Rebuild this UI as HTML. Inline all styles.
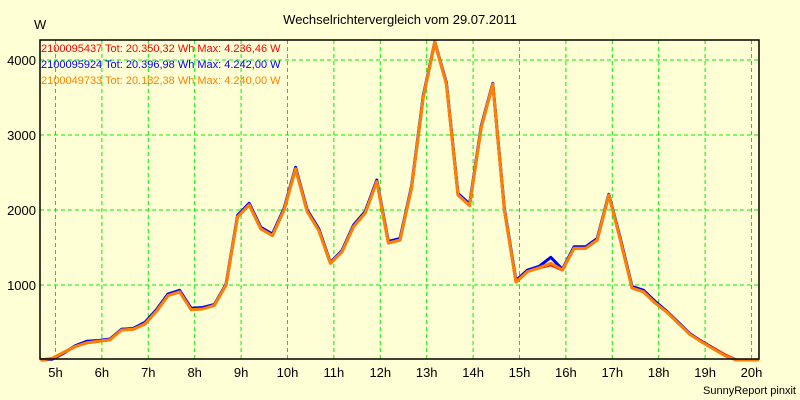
<!DOCTYPE html>
<html><head><meta charset="utf-8"><style>
html,body{margin:0;padding:0;background:#ffffd5;}
svg{display:block;font-family:"Liberation Sans",sans-serif;}
</style></head><body>
<svg id="chart" width="800" height="400" viewBox="0 0 800 400">
<rect x="0" y="0" width="800" height="400" fill="#ffffd5"/>
<text x="400" y="24" text-anchor="middle" font-size="13" fill="#000">Wechselrichtervergleich vom 29.07.2011</text>
<text x="34" y="29" font-size="13" fill="#000">W</text>
<g id="grid"></g>
<g id="series"></g>
<rect x="40" y="40" width="719" height="319" fill="none" stroke="#000" stroke-width="1.5"/>
<g id="axes"></g>
<g font-size="11">
<text x="41" y="52" fill="#ff0000">2100095437 Tot: 20.350,32 Wh Max: 4.236,46 W</text>
<text x="41" y="68" fill="#0000ff">2100095924 Tot: 20.396,98 Wh Max: 4.242,00 W</text>
<text x="41" y="84" fill="#ff8000">2100049733 Tot: 20.182,38 Wh Max: 4.240,00 W</text>
</g>
<text x="796" y="394" text-anchor="end" font-size="11" fill="#000">SunnyReport pinxit</text>
</svg>
<script>
const hourTicks = [5,6,7,8,9,10,11,12,13,14,15,16,17,18,19,20];
const yTicks = [1000,2000,3000,4000];
const startHour = 4.675;
const stepHours = 0.25;
const orangeValues = [0,20,100,180,230,250,270,400,410,480,650,860,910,670,680,730,1000,1910,2070,1750,1660,2000,2550,1980,1730,1290,1445,1780,1960,2380,1560,1600,2300,3500,4240,3680,2200,2060,3100,3680,2000,1040,1180,1230,1290,1200,1490,1490,1600,2200,1600,960,910,760,640,490,340,240,150,60,0,0,0];
const blueValues = [0,10,90,190,250,260,280,410,420,500,670,880,930,690,700,740,1010,1930,2090,1770,1680,2020,2570,2000,1750,1300,1460,1800,1980,2400,1580,1620,2320,3520,4242,3700,2220,2080,3120,3690,2020,1060,1200,1250,1370,1210,1510,1510,1620,2210,1620,980,930,780,650,500,350,245,155,60,0,0,0];
const redValues = [0,20,100,180,230,250,270,410,410,480,650,860,910,680,690,730,1000,1910,2070,1750,1660,2000,2550,1980,1730,1290,1445,1780,1960,2380,1560,1600,2300,3500,4236,3680,2200,2060,3100,3680,2000,1040,1180,1230,1270,1200,1490,1490,1600,2200,1600,960,910,760,640,490,345,250,160,70,0,0,0];

const X0=40, X1=759, Y0=359;
function xScale(h){ return 55.5 + (h-5)*46.4; }
function yScale(v){ return 360 - v*0.075; }
const NS="http://www.w3.org/2000/svg";
const grid=document.getElementById('grid');
const axes=document.getElementById('axes');
const series=document.getElementById('series');

hourTicks.forEach(h=>{
  const x=xScale(h);
  const l=document.createElementNS(NS,'line');
  l.setAttribute('x1',x);l.setAttribute('x2',x);l.setAttribute('y1',40);l.setAttribute('y2',Y0);
  l.setAttribute('stroke','#00f000');l.setAttribute('stroke-dasharray','4,3');
  
  
  grid.appendChild(l);
  const t=document.createElementNS(NS,'text');
  t.setAttribute('x',x);t.setAttribute('y',377);t.setAttribute('text-anchor','middle');t.setAttribute('font-size','13');
  t.textContent=h+'h';
  
  
  axes.appendChild(t);
});
yTicks.forEach(v=>{
  const y=yScale(v);
  const l=document.createElementNS(NS,'line');
  l.setAttribute('x1',X0);l.setAttribute('x2',X1);l.setAttribute('y1',y);l.setAttribute('y2',y);
  l.setAttribute('stroke','#00f000');l.setAttribute('stroke-dasharray','4,3');
  
  
  grid.appendChild(l);
  const t=document.createElementNS(NS,'text');
  t.setAttribute('x',36);t.setAttribute('y',y+5);t.setAttribute('text-anchor','end');t.setAttribute('font-size','13');
  t.textContent=v;
  
  
  axes.appendChild(t);
});

function drawSeries(vals,color,w,name){
  const pts=vals.map((v,i)=>{
    const x=Math.min(X1,Math.max(X0,xScale(startHour+i*stepHours)));
    return x.toFixed(1)+','+yScale(v).toFixed(1);
  }).join(' ');
  const p=document.createElementNS(NS,'polyline');
  p.setAttribute('points',pts);p.setAttribute('fill','none');
  p.setAttribute('stroke',color);p.setAttribute('stroke-width',w);p.setAttribute('stroke-linejoin','round');
  
  
  series.appendChild(p);
}
drawSeries(redValues,'#ff0000',3,'series-2100095437');
drawSeries(blueValues,'#0000ff',3,'series-2100095924');
drawSeries(orangeValues,'#ff8000',3,'series-2100049733');
</script>
</body></html>
